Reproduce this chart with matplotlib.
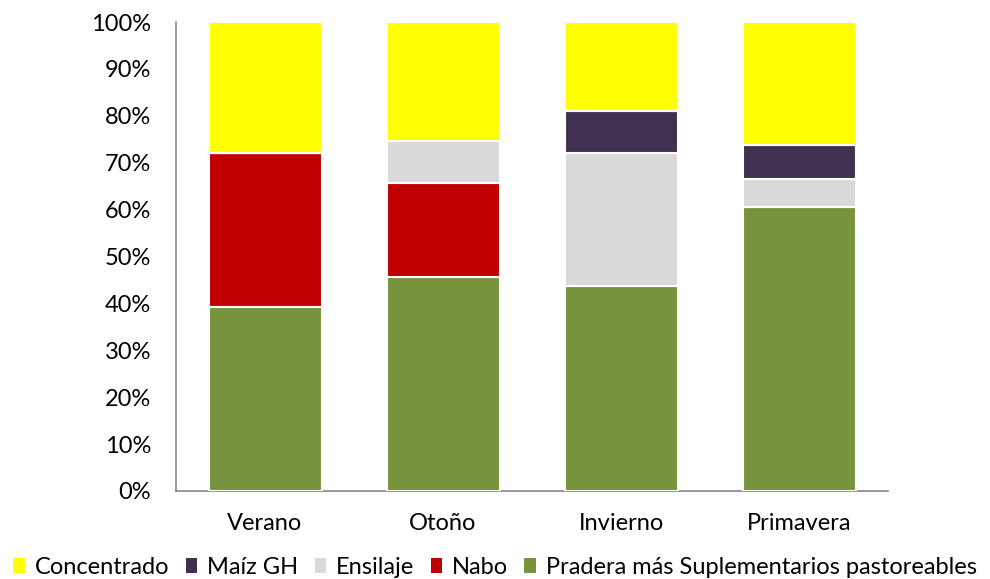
import matplotlib
matplotlib.use("Agg")
import matplotlib.pyplot as plt
import numpy as np
from matplotlib.patches import Patch

plt.rcParams['font.family'] = ['Lato', 'DejaVu Sans']

seasons = ["Verano", "Otoño", "Invierno", "Primavera"]
pradera = [39.3, 45.7, 43.7, 60.6]
nabo = [32.7, 19.9, 0.0, 0.0]
ensilaje = [0.0, 9.0, 28.3, 5.9]
maiz_gh = [0.0, 0.0, 9.0, 7.3]
concentrado = [28.0, 25.4, 19.0, 26.2]

series = [
    ("Pradera más Suplementarios pastoreables", pradera, "#77933C"),
    ("Nabo", nabo, "#C00000"),
    ("Ensilaje", ensilaje, "#D9D9D9"),
    ("Maíz GH", maiz_gh, "#403151"),
    ("Concentrado", concentrado, "#FFFF00"),
]

fig = plt.figure(figsize=(9.9, 5.79), dpi=100)
ax = fig.add_axes([0.1778, 0.152, 0.7192, 0.810])

x = np.arange(len(seasons))
bottom = np.zeros(len(seasons))
for name, vals, color in series:
    vals = np.array(vals)
    ax.bar(x, vals, bottom=bottom, width=0.635, color=color,
           edgecolor="white", linewidth=1.5, zorder=3)
    bottom += vals

ax.set_xlim(-0.5, len(seasons) - 0.5)
ax.set_ylim(0, 100)
ax.set_yticks(np.arange(0, 101, 10))
ax.set_yticklabels([f"{v}%" for v in range(0, 101, 10)])
ax.set_xticks(x)
ax.set_xticklabels(seasons)
ax.tick_params(axis="both", length=0, labelsize=17, colors="black")
ax.tick_params(axis="y", pad=18)
ax.tick_params(axis="x", pad=16)

for side in ("top", "right"):
    ax.spines[side].set_visible(False)
for side in ("left", "bottom"):
    ax.spines[side].set_color("#868686")
    ax.spines[side].set_linewidth(1.2)

handles = [Patch(facecolor=c, edgecolor="none", label=n) for n, _, c in reversed(series)]
fig.legend(handles=handles, loc="center", bbox_to_anchor=(0.5, 0.02), ncol=5,
           frameon=False, fontsize=17, handlelength=0.5, handleheight=0.6,
           handletextpad=0.4, columnspacing=0.7, borderaxespad=0)

fig.savefig("out.png", dpi=100)
